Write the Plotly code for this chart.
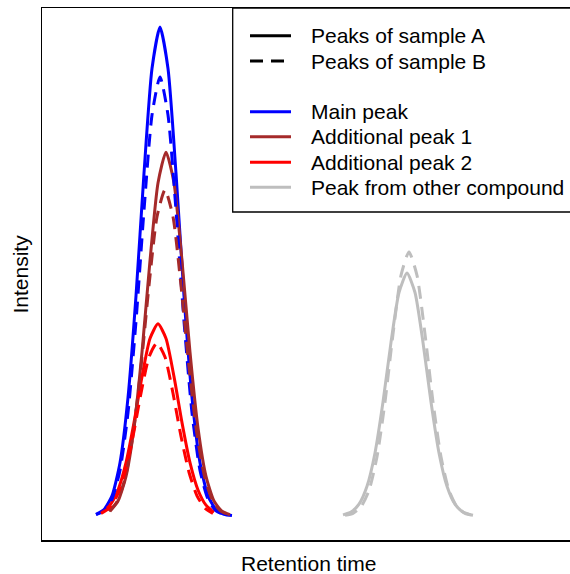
import plotly.graph_objects as go

# ---- data ----
main_a_x = [13.5, 15.5, 17.5, 19.5, 21.5, 23.5, 25.5, 27.5, 29.5, 31.5, 33.5, 35.5, 37.5, 39.5, 41.5, 43.5, 45.5, 47.5]
main_a_y = [0.0034, 0.0130, 0.0411, 0.109, 0.242, 0.450, 0.701, 0.915, 1.0, 0.915, 0.701, 0.450, 0.242, 0.109, 0.0411, 0.0130, 0.0034, 0.0008]

main_b_x = [13.5, 15.5, 17.5, 19.5, 21.5, 23.5, 25.5, 27.5, 29.5, 31.5, 33.5, 35.5, 37.5, 39.5, 41.5, 43.5, 45.5]
main_b_y = [0.0027, 0.0106, 0.0345, 0.0934, 0.211, 0.398, 0.625, 0.820, 0.898, 0.820, 0.625, 0.398, 0.211, 0.0934, 0.0345, 0.0106, 0.0027]

add1_a_x = [17, 19, 21, 23, 25, 27, 29, 31, 33, 35, 37, 39, 41, 43, 45, 47]
add1_a_y = [0.0097, 0.0306, 0.0811, 0.180, 0.335, 0.522, 0.681, 0.744, 0.681, 0.522, 0.335, 0.180, 0.0811, 0.0306, 0.0097, 0.0025]

add1_b_x = [16.75, 18.75, 20.75, 22.75, 24.75, 26.75, 28.75, 30.75, 32.75, 34.75, 36.75, 38.75, 40.75, 42.75, 44.75, 46.75]
add1_b_y = [0.0095, 0.0293, 0.0761, 0.166, 0.305, 0.471, 0.612, 0.667, 0.612, 0.471, 0.305, 0.166, 0.0761, 0.0293, 0.0095, 0.0026]

add2_a_x = [15, 17, 19, 21, 23, 25, 27, 29, 31, 33, 35, 37, 39, 41, 43]
add2_a_y = [0.0078, 0.0221, 0.0532, 0.109, 0.191, 0.285, 0.363, 0.393, 0.363, 0.285, 0.191, 0.109, 0.0532, 0.0221, 0.0078]

add2_b_x = [14.75, 16.75, 18.75, 20.75, 22.75, 24.75, 26.75, 28.75, 30.75, 32.75, 34.75, 36.75, 38.75, 40.75, 42.75]
add2_b_y = [0.0053, 0.0161, 0.0413, 0.0895, 0.163, 0.251, 0.325, 0.354, 0.325, 0.251, 0.163, 0.0895, 0.0413, 0.0161, 0.0053]

other_a_x = [75.25, 77.25, 79.25, 81.25, 83.25, 85.25, 87.25, 89.25, 91.25, 93.25, 95.25, 97.25, 99.25, 101.25, 103.25, 105.25, 107.25]
other_a_y = [0.0023, 0.0080, 0.0241, 0.0607, 0.129, 0.233, 0.355, 0.457, 0.497, 0.457, 0.355, 0.233, 0.129, 0.0607, 0.0241, 0.0080, 0.0023]

other_b_x = [75.75, 77.75, 79.75, 81.75, 83.75, 85.75, 87.75, 89.75, 91.75, 93.75, 95.75, 97.75, 99.75, 101.75, 103.75, 105.75, 107.75]
other_b_y = [0.0014, 0.0055, 0.0186, 0.0522, 0.121, 0.233, 0.372, 0.492, 0.540, 0.492, 0.372, 0.233, 0.121, 0.0522, 0.0186, 0.0055, 0.0014]

peak_names = ["Main peak", "Additional peak 1", "Additional peak 2", "Peak from other compound"]
sample_names = ["Peaks of sample A", "Peaks of sample B"]
colors = ["#0000FF", "#A52A2A", "#FF0000", "#BEBEBE"]

# The page margin is removed (post_script below); the plot box continues past
# the right edge of the window, as in the reference.
H = 574
ML, MR, MT, MB = 42, 0, 8, 34
X_RIGHT = 578  # right edge of the plot box (just outside the window)
W_FIG = X_RIGHT
PW, PH = X_RIGHT - ML, H - MT - MB


def px(x):
    return (x - ML) / PW


def py(y):
    return (H - MB - y) / PH


FONT = "Liberation Sans, Arial, Helvetica, sans-serif"
LW = 3.0
DASH = "13px,8px"

fig = go.Figure()
series_a = [(main_a_x, main_a_y), (add1_a_x, add1_a_y), (add2_a_x, add2_a_y), (other_a_x, other_a_y)]
series_b = [(main_b_x, main_b_y), (add1_b_x, add1_b_y), (add2_b_x, add2_b_y), (other_b_x, other_b_y)]
for (xs, ys), c, n in zip(series_a, colors, peak_names):
    fig.add_trace(go.Scatter(x=xs, y=ys, mode="lines", name=n + " (A)",
                             line=dict(color=c, width=LW, shape="spline", smoothing=0.6),
                             showlegend=False, hoverinfo="skip"))
for (xs, ys), c, n in zip(series_b, colors, peak_names):
    fig.add_trace(go.Scatter(x=xs, y=ys, mode="lines", name=n + " (B)",
                             line=dict(color=c, width=LW, dash=DASH, shape="spline", smoothing=0.6),
                             showlegend=False, hoverinfo="skip"))

# data range: 0 at window y=516, 1 at window y=27; 4 px per x unit from window x=42
y0_data = (540 - 516) / 489.0
y1_data = (516 - 8) / 489.0
x_max = PW / 4.0

shapes = []
annotations = []
# legend box
shapes.append(dict(type="rect", xref="paper", yref="paper",
                   x0=px(232.7), x1=px(640), y0=py(212), y1=py(8),
                   line=dict(color="black", width=1.3), fillcolor="white", layer="above"))
rows = [(35.7, "black", None, sample_names[0]),
        (61.0, "black", DASH, sample_names[1]),
        (111.7, colors[0], None, peak_names[0]),
        (136.7, colors[1], None, peak_names[1]),
        (162.3, colors[2], None, peak_names[2]),
        (187.3, colors[3], None, peak_names[3])]
for yv, c, d, t in rows:
    ln = dict(color=c, width=LW)
    if d:
        ln["dash"] = d
    shapes.append(dict(type="line", xref="paper", yref="paper",
                       x0=px(250), x1=px(291), y0=py(yv), y1=py(yv), line=ln, layer="above"))
    annotations.append(dict(text=t, xref="paper", yref="paper", x=px(309), y=py(yv),
                            xanchor="left", yanchor="middle", showarrow=False,
                            font=dict(family=FONT, size=21, color="black")))

annotations.append(dict(text="Retention time", xref="paper", yref="paper", x=px(308), y=py(563),
                        xanchor="center", yanchor="middle", showarrow=False,
                        font=dict(family=FONT, size=21, color="black")))
annotations.append(dict(text="Intensity", xref="paper", yref="paper", x=px(19.5), y=py(274),
                        xanchor="center", yanchor="middle", showarrow=False, textangle=-90,
                        font=dict(family=FONT, size=21, color="black")))

fig.update_layout(
    width=W_FIG, height=H,
    margin=dict(l=ML, r=MR, t=MT, b=MB, pad=0),
    paper_bgcolor="white", plot_bgcolor="white",
    showlegend=False,
    shapes=shapes, annotations=annotations,
    xaxis=dict(range=[0, x_max], showgrid=False, zeroline=False, showticklabels=False,
               ticks="", showline=True, linecolor="black", linewidth=1.5, mirror=True),
    yaxis=dict(range=[-y0_data, y1_data], showgrid=False, zeroline=False, showticklabels=False,
               ticks="", showline=True, linecolor="black", linewidth=1.5, mirror=False),
)

fig.write_html(
    "out.html",
    config={"displayModeBar": False, "staticPlot": True},
    post_script="document.body.style.margin='0';"
                "document.documentElement.style.overflow='hidden';"
                "document.body.style.overflow='hidden';",
)
